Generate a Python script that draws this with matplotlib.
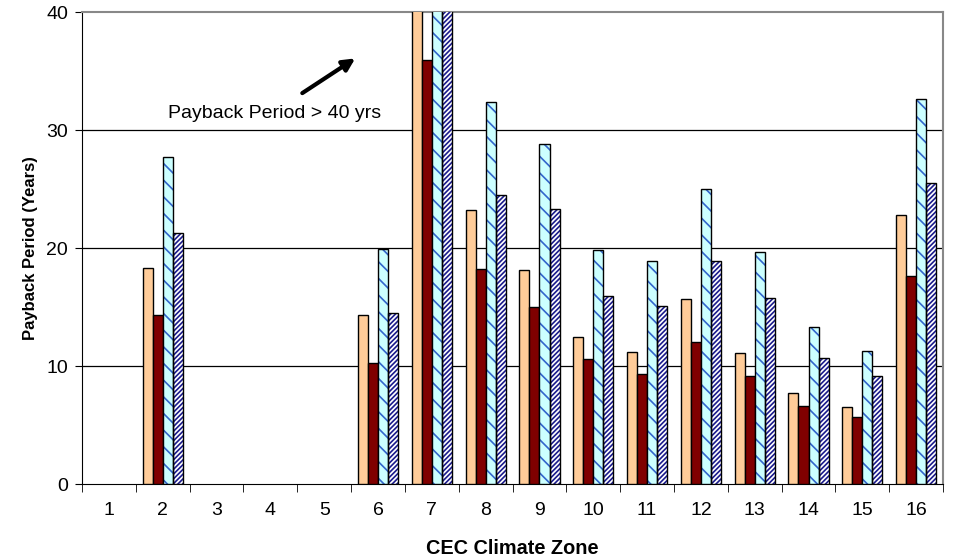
import numpy as np
import matplotlib
matplotlib.use("Agg")
import matplotlib.pyplot as plt

zones = [str(i) for i in range(1, 17)]
nan = np.nan
# four series per climate zone (values above 40 are clipped by the axis)
series_a = [nan, 18.3, nan, nan, nan, 14.3, 48.0, 23.2, 18.1, 12.5, 11.2, 15.7, 11.1, 7.7, 6.5, 22.8]
series_b = [nan, 14.3, nan, nan, nan, 10.3, 35.9, 18.2, 15.0, 10.6, 9.3, 12.0, 9.2, 6.6, 5.7, 17.6]
series_c = [nan, 27.7, nan, nan, nan, 19.9, 48.0, 32.4, 28.8, 19.8, 18.9, 25.0, 19.7, 13.3, 11.3, 32.6]
series_d = [nan, 21.3, nan, nan, nan, 14.5, 48.0, 24.5, 23.3, 15.9, 15.1, 18.9, 15.8, 10.7, 9.2, 25.5]
y_ticks = [0, 10, 20, 30, 40]

plt.rcParams['font.family'] = ['Liberation Sans', 'DejaVu Sans']
plt.rcParams['hatch.linewidth'] = 1.2

fig = plt.figure(figsize=(9.54, 5.59), dpi=100)
ax = fig.add_axes([0.086, 0.134, 0.9025, 0.8445])

x = np.arange(len(zones))
w = 0.187
offs = [-1.5 * w, -0.5 * w, 0.5 * w, 1.5 * w]

ax.bar(x + offs[0], series_a, w, color='#FFCC99', edgecolor='black', linewidth=1.0, zorder=3)
ax.bar(x + offs[1], series_b, w, color='#800000', edgecolor='black', linewidth=1.0, zorder=3)
# hatched bars: fill with hatch, then outline in black
ax.bar(x + offs[2], series_c, w, color='#CCFFFF', edgecolor='#3366CC', linewidth=0, hatch='\\\\', zorder=3)
ax.bar(x + offs[2], series_c, w, color='none', edgecolor='black', linewidth=1.0, zorder=4)
ax.bar(x + offs[3], series_d, w, color='white', edgecolor='#1A1A8C', linewidth=0, hatch='///////', zorder=3)
ax.bar(x + offs[3], series_d, w, color='none', edgecolor='black', linewidth=1.0, zorder=4)

ax.set_xlim(-0.5, len(zones) - 0.5)
ax.set_ylim(0, 40)
ax.set_yticks(y_ticks)
ax.set_yticklabels([str(t) for t in y_ticks], fontsize=14)
ax.set_xticks(x)
ax.set_xticklabels(zones, fontsize=14)
ax.set_xticks(np.arange(len(zones) + 1) - 0.5, minor=True)
ax.tick_params(axis='x', which='major', length=0, pad=13)
ax.tick_params(axis='x', which='minor', length=6, direction='out', color='black')
ax.tick_params(axis='y', length=5, direction='out', pad=5)

for yv in [10, 20, 30]:
    ax.axhline(yv, color='black', linewidth=0.9, zorder=1)

ax.spines['top'].set_color('#888888')
ax.spines['right'].set_color('#888888')
ax.spines['top'].set_linewidth(1.5)
ax.spines['right'].set_linewidth(1.5)
ax.spines['left'].set_color('black')
ax.spines['bottom'].set_color('black')

ax.set_xlabel('CEC Climate Zone', fontsize=14.3, fontweight='bold', labelpad=14)
ax.set_ylabel('Payback Period (Years)', fontsize=12, fontweight='bold', labelpad=6)

ax.annotate('', xy=(4.62, 36.2), xytext=(3.55, 33.0),
            arrowprops=dict(arrowstyle='-|>', color='black', lw=3, mutation_scale=18))
ax.text(1.1, 31.4, 'Payback Period > 40 yrs', fontsize=14, ha='left', va='center')

fig.savefig('out.png', dpi=100)
